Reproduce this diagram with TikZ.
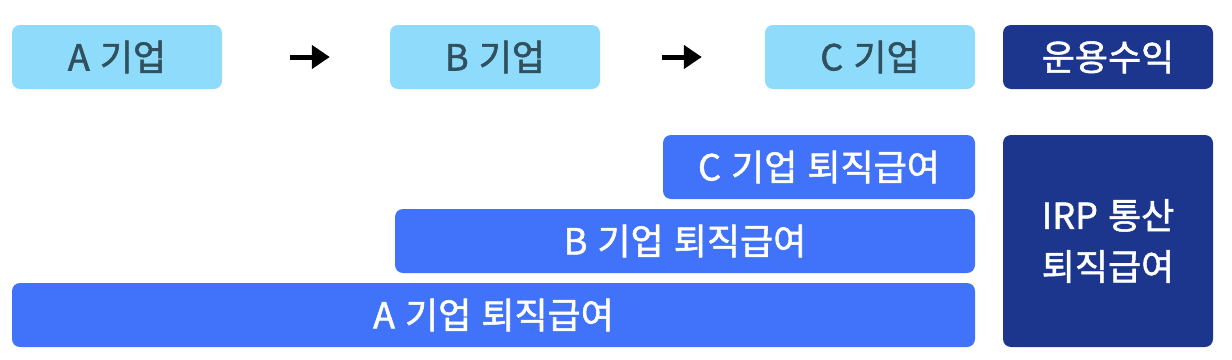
\documentclass[tikz,border=0pt]{standalone}
\usepackage{fontspec}
\setmainfont{Noto Sans CJK KR}[FakeBold=1.5,WordSpace=1.25]
\usetikzlibrary{arrows.meta}
\definecolor{lightbox}{RGB}{142,219,252}
\definecolor{lighttext}{RGB}{48,80,94}
\definecolor{midblue}{RGB}{65,114,250}
\definecolor{navy}{RGB}{27,54,140}
\tikzset{
  firm/.style={fill=lightbox, text=lighttext, rounded corners=8pt, minimum width=210pt, minimum height=64pt, inner sep=0pt, font=\fontsize{36}{40}\selectfont},
  pay/.style={fill=midblue, text=white, rounded corners=8pt, minimum height=64pt, inner sep=0pt, font=\fontsize{36}{40}\selectfont},
  dark/.style={fill=navy, text=white, rounded corners=8pt, minimum width=210pt, inner sep=0pt, font=\fontsize{36}{40}\selectfont, align=center},
  flow/.style={line width=5pt, -{Triangle[length=18pt,width=23pt]}}
}
\begin{document}
\begin{tikzpicture}[x=1pt,y=-1pt]
\useasboundingbox (0,0) rectangle (1232,359);
\node[firm] (A) at (117,57) {A 기업};
\node[firm] (B) at (495,57) {B 기업};
\node[firm] (C) at (870,57) {C 기업};
\node[dark, minimum height=64pt] (R) at (1108,57) {운용수익};
\node[pay, minimum width=312pt] (Cp) at (819,167) {C 기업 퇴직급여};
\node[pay, minimum width=580pt] (Bp) at (685,241) {B 기업 퇴직급여};
\node[pay, minimum width=963pt] (Ap) at (493.5,315) {A 기업 퇴직급여};
\node[dark, minimum height=212pt, font=\fontsize{36}{51}\selectfont] (I) at (1108,241) {IRP 통산\\퇴직급여};
\draw[flow, shorten <=68pt, shorten >=60pt] (A) -- (B);
\draw[flow, shorten <=62pt, shorten >=63pt] (B) -- (C);
\end{tikzpicture}
\end{document}
